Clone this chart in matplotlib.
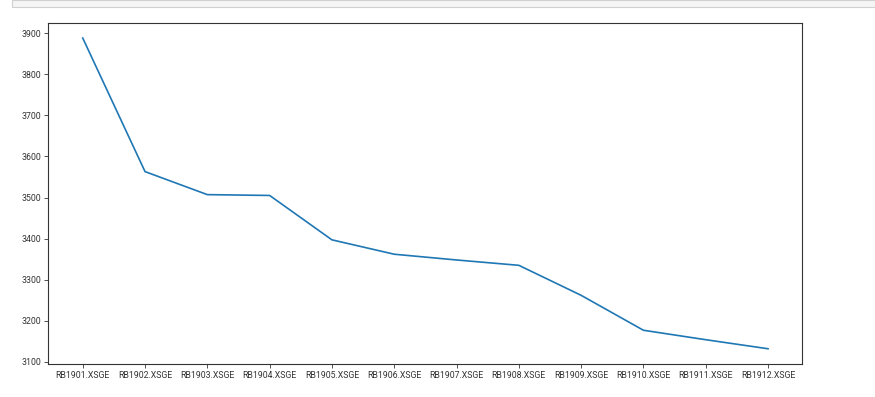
import matplotlib.pyplot as plt
from matplotlib.patches import Rectangle

# contract codes and their prices
contracts = ['RB1901.XSGE', 'RB1902.XSGE', 'RB1903.XSGE', 'RB1904.XSGE',
             'RB1905.XSGE', 'RB1906.XSGE', 'RB1907.XSGE', 'RB1908.XSGE',
             'RB1909.XSGE', 'RB1910.XSGE', 'RB1911.XSGE', 'RB1912.XSGE']
prices = [3888, 3563, 3507, 3505, 3397, 3362, 3348, 3335, 3262, 3177, 3154, 3132]

plt.rcParams['font.family'] = ['Roboto', 'DejaVu Sans']

fig = plt.figure(figsize=(8.75, 3.97), dpi=100)

# leftover strip of the notebook cell above the output
fig.patches.append(Rectangle((12 / 875, 1 - 7 / 397), 1, 7 / 397,
                             transform=fig.transFigure, facecolor='#f5f5f5',
                             edgecolor='#d0d0d0', linewidth=0.8))

ax = fig.add_axes([0.0554, 0.0824, 0.8615, 0.8609])
ax.plot(contracts, prices, color='#1f77b4', linewidth=1.2)

ax.set_yticks([3100, 3200, 3300, 3400, 3500, 3600, 3700, 3800, 3900])
ax.tick_params(labelsize=6.3, length=3, width=0.6, colors='#333333', pad=2)
for s in ax.spines.values():
    s.set_color('#333333')
    s.set_linewidth(0.8)

# Save the plot
plt.savefig('out.png', dpi=100)
plt.close()
